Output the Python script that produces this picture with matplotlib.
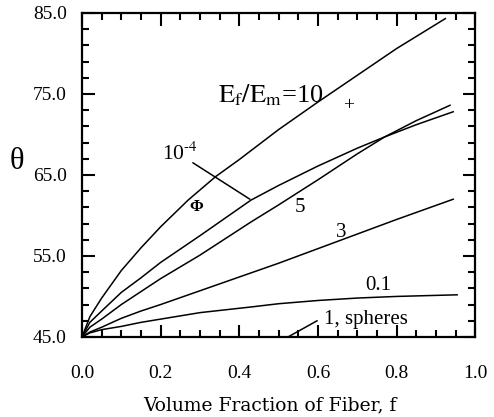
import matplotlib
matplotlib.use("Agg")
import numpy as np
import matplotlib.pyplot as plt

plt.rcParams['font.family'] = ['Liberation Serif', 'DejaVu Serif']
plt.rcParams['mathtext.fontset'] = 'stix'

# E_f/E_m = 10
f_10 = [0.0, 0.02, 0.05, 0.1, 0.15, 0.2, 0.27, 0.34, 0.4, 0.5, 0.6, 0.7, 0.8, 0.924]
th_10 = [45.0, 47.5, 49.8, 53.2, 56.0, 58.6, 61.9, 64.8, 66.9, 70.6, 74.0, 77.3, 80.6, 84.3]

# E_f/E_m = 1e-4
f_1em4 = [0.0, 0.02, 0.05, 0.1, 0.15, 0.2, 0.3, 0.43, 0.5, 0.6, 0.7, 0.77, 0.85, 0.944]
th_1em4 = [45.0, 46.8, 48.2, 50.5, 52.3, 54.2, 57.5, 61.9, 63.7, 66.1, 68.3, 69.7, 71.2, 72.8]

# E_f/E_m = 5
f_5 = [0.0, 0.02, 0.05, 0.1, 0.15, 0.2, 0.3, 0.43, 0.5, 0.6, 0.7, 0.77, 0.85, 0.936]
th_5 = [45.0, 46.2, 47.2, 49.0, 50.6, 52.2, 55.1, 59.2, 61.3, 64.4, 67.6, 69.7, 71.7, 73.6]

# E_f/E_m = 3
f_3 = [0.0, 0.02, 0.05, 0.1, 0.15, 0.2, 0.3, 0.4, 0.5, 0.6, 0.7, 0.8, 0.944]
th_3 = [45.0, 45.6, 46.2, 47.3, 48.2, 49.0, 50.7, 52.4, 54.1, 55.9, 57.7, 59.5, 62.0]

# E_f/E_m = 0.1
f_01 = [0.0, 0.02, 0.05, 0.1, 0.15, 0.2, 0.3, 0.43, 0.5, 0.6, 0.7, 0.8, 0.954]
th_01 = [45.0, 45.5, 45.9, 46.3, 46.8, 47.2, 48.0, 48.7, 49.1, 49.5, 49.8, 50.0, 50.2]

# E_f/E_m = 1, spheres
f_1 = [0.0, 0.954]
th_1 = [45.0, 45.0]

x_ticks = [0.0, 0.2, 0.4, 0.6, 0.8, 1.0]
y_ticks = [45.0, 55.0, 65.0, 75.0, 85.0]

fig = plt.figure(figsize=(4.94, 4.17), dpi=100)
ax = fig.add_axes([0.166, 0.192, 0.796, 0.777])

for fx, th in [(f_10, th_10), (f_1em4, th_1em4), (f_5, th_5), (f_3, th_3), (f_01, th_01)]:
    ax.plot(fx, th, color='black', lw=1.1)
ax.plot(f_1, th_1, color='black', lw=1.1, clip_on=False)

ax.set_xlim(0, 1.0)
ax.set_ylim(45, 85)
ax.set_xticks(x_ticks)
ax.set_xticklabels(['%.1f' % v for v in x_ticks])
ax.set_xticks(np.arange(0, 1.001, 0.05), minor=True)
ax.set_yticks(y_ticks)
ax.set_yticklabels(['%.1f' % v for v in y_ticks])
ax.set_yticks(np.arange(45, 85.1, 2), minor=True)
ax.tick_params(which='both', direction='in', top=True, right=True, width=1.5)
ax.tick_params(which='major', length=9)
ax.tick_params(which='minor', length=5)
ax.tick_params(axis='x', which='major', labelsize=14, pad=20)
ax.tick_params(axis='y', which='major', labelsize=14, pad=11)
for s in ax.spines.values():
    s.set_linewidth(1.6)

ax.set_xlabel('Volume Fraction of Fiber, f', fontsize=13.5, family=['DejaVu Serif'],
              va='center')
ax.xaxis.set_label_coords(0.478, -0.21)
ax.set_ylabel('θ', fontsize=22, rotation=0, va='center')
ax.yaxis.set_label_coords(-0.165, 0.54)

ax.text(0.481, 74.9, r'$\mathrm{E_f/E_m}$=10', fontsize=19, ha='center', va='center')
ax.text(0.679, 73.6, '+', fontsize=14, ha='center', va='center')

ax.text(0.249, 67.6, r'10$^{\text{-}4}$', fontsize=15.5, ha='center', va='center')
ax.annotate('', xy=(0.427, 62.0), xytext=(0.282, 66.5),
            arrowprops=dict(arrowstyle='-', color='black', lw=1.1, shrinkA=0, shrinkB=0))
ax.text(0.29, 61.0, 'Φ', fontsize=12, ha='center', va='center', fontweight='bold')
ax.text(0.555, 61.0, '5', fontsize=15, ha='center', va='center')
ax.text(0.659, 57.9, '3', fontsize=15, ha='center', va='center')
ax.text(0.753, 51.4, '0.1', fontsize=15, ha='center', va='center')
ax.text(0.722, 47.1, '1, spheres', fontsize=15, ha='center', va='center')
ax.annotate('', xy=(0.524, 45.0), xytext=(0.598, 47.0),
            arrowprops=dict(arrowstyle='-', color='black', lw=1.1, shrinkA=0, shrinkB=0))

fig.savefig('out.png', dpi=100)
